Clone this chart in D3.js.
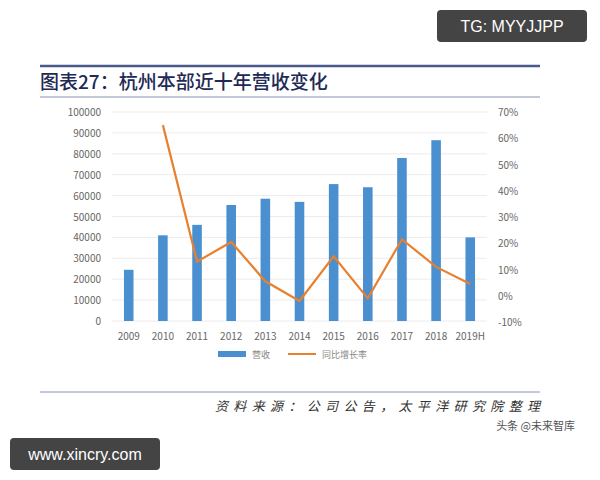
<!DOCTYPE html><html><head><meta charset="utf-8"><script src="https://cdn.jsdelivr.net/npm/d3@7"></script>
<style>body{margin:0;background:#fff}</style></head><body><svg id="c" width="600" height="480"></svg>
<script>
const categories=["2009","2010","2011","2012","2013","2014","2015","2016","2017","2018","2019H"];
const revenue=[24500,41000,46000,55500,58500,57000,65500,64000,78000,86500,40000];
const growth=[null,65,13,20.5,5.5,-2,15,-1,21.5,11,4.5];
const leftTicks=[0,10000,20000,30000,40000,50000,60000,70000,80000,90000,100000];
const rightTicks=[-10,0,10,20,30,40,50,60,70];
const svg=d3.select("#c");
const F="'Noto Sans CJK SC',sans-serif";
svg.append("line").attr("x1",40).attr("x2",540).attr("y1",66).attr("y2",66).attr("stroke","#4a5a8a").attr("stroke-width",2.5);
svg.append("line").attr("x1",40).attr("x2",540).attr("y1",97).attr("y2",97).attr("stroke","#8a94b4").attr("stroke-width",1.2);
svg.append("text").attr("x",40).attr("y",89).attr("font-family",F).attr("font-size",19).attr("font-weight","500").attr("fill","#1e2a55").text("图表27：杭州本部近十年营收变化");
const x=d3.scaleBand().domain(categories).range([112,487]).paddingInner(0.72).paddingOuter(0.35);
const y=d3.scaleLinear().domain([0,100000]).range([321,112]);
const y2=d3.scaleLinear().domain([-10,70]).range([322,112]);
const g=svg.append("g");
leftTicks.forEach(t=>{g.append("line").attr("x1",112).attr("x2",487).attr("y1",y(t)).attr("y2",y(t)).attr("stroke","#ececec");});
svg.append("g").selectAll("text").data(leftTicks).join("text").attr("x",101).attr("y",d=>y(d)+4).attr("text-anchor","end").attr("font-family",F).attr("font-size",10).attr("fill","#666").text(d=>d);
svg.append("g").selectAll("text").data(rightTicks).join("text").attr("x",498).attr("y",d=>y2(d)+4).attr("font-family",F).attr("font-size",10).attr("fill","#666").text(d=>d+"%");
svg.append("g").selectAll("rect").data(categories).join("rect").attr("x",d=>x(d)).attr("width",x.bandwidth()).attr("y",(d,i)=>y(revenue[i])).attr("height",(d,i)=>321-y(revenue[i])).attr("fill","#4a8fd0");
svg.append("g").selectAll("text").data(categories).join("text").attr("x",d=>x(d)+x.bandwidth()/2).attr("y",340).attr("text-anchor","middle").attr("font-family",F).attr("font-size",10).attr("fill","#666").text(d=>d);
const line=d3.line().defined(d=>d[1]!=null).x(d=>x(d[0])+x.bandwidth()/2).y(d=>y2(d[1]));
svg.append("path").datum(categories.map((c,i)=>[c,growth[i]])).attr("d",line).attr("fill","none").attr("stroke","#e8802e").attr("stroke-width",2.2);
svg.append("rect").attr("x",218).attr("y",351).attr("width",28).attr("height",6).attr("fill","#4a8fd0");
svg.append("text").attr("x",252).attr("y",358).attr("font-family",F).attr("font-size",9).attr("fill","#888").text("营收");
svg.append("line").attr("x1",288).attr("x2",316).attr("y1",354).attr("y2",354).attr("stroke","#e8802e").attr("stroke-width",2);
svg.append("text").attr("x",322).attr("y",358).attr("font-family",F).attr("font-size",9).attr("fill","#888").text("同比增长率");
svg.append("line").attr("x1",40).attr("x2",540).attr("y1",392).attr("y2",392).attr("stroke","#8a94b4").attr("stroke-width",1);
svg.append("text").attr("x",215).attr("y",411).attr("textLength",325).attr("font-family",F).attr("font-size",13).attr("font-style","italic").attr("fill","#333").text("资料来源：公司公告，太平洋研究院整理");
svg.append("text").attr("x",575).attr("y",430).attr("text-anchor","end").attr("font-family",F).attr("font-size",11).attr("fill","#555").text("头条 @未来智库");
svg.append("rect").attr("x",437).attr("y",10).attr("width",150).attr("height",32).attr("rx",4).attr("fill","#444");
svg.append("text").attr("x",512).attr("y",32).attr("text-anchor","middle").attr("font-family","Liberation Sans").attr("font-size",16).attr("fill","#fff").text("TG: MYYJJPP");
svg.append("rect").attr("x",10).attr("y",438).attr("width",150).attr("height",32).attr("rx",4).attr("fill","#444");
svg.append("text").attr("x",85).attr("y",460).attr("text-anchor","middle").attr("font-family","Liberation Sans").attr("font-size",16).attr("fill","#fff").text("www.xincry.com");
</script></body></html>
